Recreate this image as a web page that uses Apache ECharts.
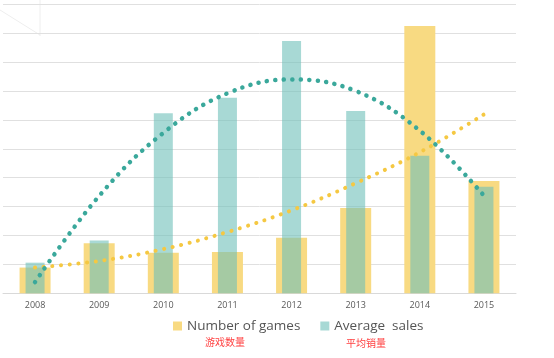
<!DOCTYPE html>
<html><head><meta charset="utf-8">
<script src="https://cdn.jsdelivr.net/npm/echarts@6/dist/echarts.min.js"></script>
<style>html,body{margin:0;padding:0;background:#fff}#c{width:554px;height:358px}</style>
</head><body><div id="c"></div>
<script>
const years = ['2008','2009','2010','2011','2012','2013','2014','2015'];
const numberOfGames = [0.89, 1.73, 1.40, 1.43, 1.92, 2.95, 9.25, 3.89];
const averageSales = [1.06, 1.83, 6.23, 6.77, 8.73, 6.31, 4.76, 3.69];
const gamesTrend = [0.89, 1.12, 1.53, 2.12, 2.87, 3.81, 4.88, 6.19];
const salesTrend = [0.39, 3.37, 5.55, 6.92, 7.40, 7.00, 5.63, 3.38];
const legendNames = ['Number of games', 'Average  sales'];
const cnLabels = ['游戏数量', '平均销量'];

const chart = echarts.init(document.getElementById('c'), null, {renderer: 'canvas'});
chart.setOption({
  animation: false,
  textStyle: {fontFamily: 'Open Sans'},
  grid: {left: 3, right: 38, top: 4.3, bottom: 64.7},
  xAxis: [{
    type: 'category', data: years,
    axisLine: {lineStyle: {color: '#d9d9d9', width: 1}},
    axisTick: {show: false},
    axisLabel: {color: '#595959', fontSize: 9, margin: 8}
  }, {
    type: 'category', data: years, show: false, position: 'bottom'
  }],
  yAxis: {
    type: 'value', min: 0, max: 10, interval: 1,
    axisLabel: {show: false}, axisLine: {show: false}, axisTick: {show: false},
    splitLine: {lineStyle: {color: '#e0e0e0', width: 1}}
  },
  legend: {
    data: legendNames, bottom: 20, left: 168, itemWidth: 9, itemHeight: 9, itemGap: 20,
    icon: 'rect',
    textStyle: {color: '#555555', fontSize: 13.5, fontFamily: 'Open Sans'}
  },
  graphic: [
    {type: 'text', left: 205, top: 337, style: {text: cnLabels[0], fill: '#ff4040', fontSize: 10, fontFamily: 'Noto Sans CJK SC'}},
    {type: 'text', left: 346, top: 338, style: {text: cnLabels[1], fill: '#ff4040', fontSize: 10, fontFamily: 'Noto Sans CJK SC'}},
    {type: 'line', shape: {x1: 40, y1: 0, x2: 40, y2: 36}, style: {stroke: '#eeeeee', lineWidth: 1}},
    {type: 'line', shape: {x1: 0, y1: 10, x2: 40, y2: 35}, style: {stroke: '#eeeeee', lineWidth: 1}}
  ],
  series: [
    {name: legendNames[0], type: 'bar', data: numberOfGames, barWidth: 31, xAxisIndex: 1,
     itemStyle: {color: '#f8da82'}},
    {name: legendNames[1], type: 'bar', data: averageSales, barWidth: 19, xAxisIndex: 0, z: 3,
     itemStyle: {color: '#6ec0b9', opacity: 0.6}},
    {type: 'line', data: gamesTrend, smooth: 0.4, showSymbol: false, z: 5,
     lineStyle: {color: '#f5c842', width: 4, type: [0.1, 8.6], cap: 'round'}},
    {type: 'line', data: salesTrend, smooth: 0.4, showSymbol: false, z: 6,
     lineStyle: {color: '#3aa89b', width: 4.5, type: [0.1, 8.4], cap: 'round'}}
  ]
});
</script></body></html>
